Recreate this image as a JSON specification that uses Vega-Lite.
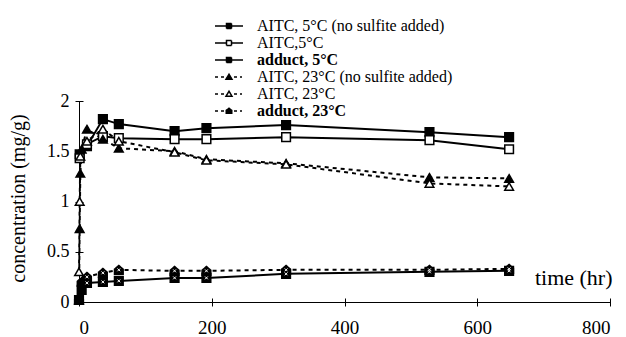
{
  "$schema": "https://vega.github.io/schema/vega-lite/v6.json",
  "autosize": "none",
  "width": 531,
  "height": 201,
  "padding": {"left": 79, "top": 101, "right": 16, "bottom": 35},
  "background": "white",
  "config": {
    "view": {"stroke": null},
    "font": "Liberation Serif",
    "axis": {"grid": false, "domainColor": "black", "tickColor": "black", "labelColor": "black", "titleColor": "black", "labelFont": "Liberation Serif", "titleFont": "Liberation Serif", "titleFontWeight": "normal", "domainWidth": 1, "tickWidth": 1}
  },
  "data": {"values": [
    {"series": "AITC, 5°C (no sulfite added)", "t": 1, "v": 1.47},
    {"series": "AITC, 5°C (no sulfite added)", "t": 12, "v": 1.55},
    {"series": "AITC, 5°C (no sulfite added)", "t": 36, "v": 1.82},
    {"series": "AITC, 5°C (no sulfite added)", "t": 60, "v": 1.77},
    {"series": "AITC, 5°C (no sulfite added)", "t": 144, "v": 1.70},
    {"series": "AITC, 5°C (no sulfite added)", "t": 192, "v": 1.73},
    {"series": "AITC, 5°C (no sulfite added)", "t": 312, "v": 1.76},
    {"series": "AITC, 5°C (no sulfite added)", "t": 528, "v": 1.69},
    {"series": "AITC, 5°C (no sulfite added)", "t": 648, "v": 1.64},
    {"series": "AITC,5°C", "t": 1, "v": 1.43},
    {"series": "AITC,5°C", "t": 12, "v": 1.57},
    {"series": "AITC,5°C", "t": 36, "v": 1.65},
    {"series": "AITC,5°C", "t": 60, "v": 1.63},
    {"series": "AITC,5°C", "t": 144, "v": 1.62},
    {"series": "AITC,5°C", "t": 192, "v": 1.62},
    {"series": "AITC,5°C", "t": 312, "v": 1.64},
    {"series": "AITC,5°C", "t": 528, "v": 1.61},
    {"series": "AITC,5°C", "t": 648, "v": 1.52},
    {"series": "adduct, 5°C", "t": 0, "v": 0.02},
    {"series": "adduct, 5°C", "t": 4, "v": 0.12},
    {"series": "adduct, 5°C", "t": 12, "v": 0.19},
    {"series": "adduct, 5°C", "t": 36, "v": 0.20},
    {"series": "adduct, 5°C", "t": 60, "v": 0.21},
    {"series": "adduct, 5°C", "t": 144, "v": 0.24},
    {"series": "adduct, 5°C", "t": 192, "v": 0.24},
    {"series": "adduct, 5°C", "t": 312, "v": 0.28},
    {"series": "adduct, 5°C", "t": 528, "v": 0.30},
    {"series": "adduct, 5°C", "t": 648, "v": 0.31},
    {"series": "AITC, 23°C (no sulfite added)", "t": 0, "v": 0.02},
    {"series": "AITC, 23°C (no sulfite added)", "t": 1, "v": 0.73},
    {"series": "AITC, 23°C (no sulfite added)", "t": 2, "v": 1.28},
    {"series": "AITC, 23°C (no sulfite added)", "t": 4, "v": 1.52},
    {"series": "AITC, 23°C (no sulfite added)", "t": 12, "v": 1.72},
    {"series": "AITC, 23°C (no sulfite added)", "t": 36, "v": 1.62},
    {"series": "AITC, 23°C (no sulfite added)", "t": 60, "v": 1.53},
    {"series": "AITC, 23°C (no sulfite added)", "t": 144, "v": 1.50},
    {"series": "AITC, 23°C (no sulfite added)", "t": 192, "v": 1.42},
    {"series": "AITC, 23°C (no sulfite added)", "t": 312, "v": 1.38},
    {"series": "AITC, 23°C (no sulfite added)", "t": 528, "v": 1.24},
    {"series": "AITC, 23°C (no sulfite added)", "t": 648, "v": 1.23},
    {"series": "AITC, 23°C", "t": 0, "v": 0.30},
    {"series": "AITC, 23°C", "t": 1, "v": 1.00},
    {"series": "AITC, 23°C", "t": 2, "v": 1.45},
    {"series": "AITC, 23°C", "t": 12, "v": 1.60},
    {"series": "AITC, 23°C", "t": 36, "v": 1.72},
    {"series": "AITC, 23°C", "t": 60, "v": 1.60},
    {"series": "AITC, 23°C", "t": 144, "v": 1.49},
    {"series": "AITC, 23°C", "t": 192, "v": 1.41},
    {"series": "AITC, 23°C", "t": 312, "v": 1.37},
    {"series": "AITC, 23°C", "t": 528, "v": 1.18},
    {"series": "AITC, 23°C", "t": 648, "v": 1.15},
    {"series": "adduct, 23°C", "t": 0, "v": 0.02},
    {"series": "adduct, 23°C", "t": 4, "v": 0.20},
    {"series": "adduct, 23°C", "t": 12, "v": 0.25},
    {"series": "adduct, 23°C", "t": 36, "v": 0.29},
    {"series": "adduct, 23°C", "t": 60, "v": 0.32},
    {"series": "adduct, 23°C", "t": 144, "v": 0.31},
    {"series": "adduct, 23°C", "t": 192, "v": 0.31},
    {"series": "adduct, 23°C", "t": 312, "v": 0.32},
    {"series": "adduct, 23°C", "t": 528, "v": 0.32},
    {"series": "adduct, 23°C", "t": 648, "v": 0.33}
  ]},
  "encoding": {
    "x": {"field": "t", "type": "quantitative",
      "scale": {"domain": [0, 800], "nice": false, "zero": true},
      "axis": {"values": [0, 200, 400, 600, 800], "labelFontSize": 19, "tickSize": 4, "labelPadding": 12,
        "title": "time (hr)", "titleFontSize": 22, "titleAnchor": "end", "titleAlign": "right", "titleX": 533, "titleY": -18, "titleBaseline": "alphabetic",
        "encoding": {"ticks": {"y": {"value": -4}, "y2": {"value": 4}}}}},
    "y": {"field": "v", "type": "quantitative",
      "scale": {"domain": [0, 2], "nice": false},
      "axis": {"values": [0, 0.5, 1, 1.5, 2], "format": "~g", "labelFontSize": 18, "tickSize": 4, "labelPadding": 6,
        "title": "concentration (mg/g)", "titleFontSize": 20, "titleX": -61, "titleY": 97, "titleBaseline": "middle", "titleAngle": -90,
        "encoding": {"ticks": {"x": {"value": -4}, "x2": {"value": 4}}}}}
  },
  "layer": [
    {
      "transform": [{"filter": "indexof(datum.series, '5°C') >= 0"}],
      "mark": {"type": "line", "color": "black", "strokeWidth": 2},
      "encoding": {"detail": {"field": "series"}}
    },
    {
      "transform": [{"filter": "indexof(datum.series, '23°C') >= 0"}],
      "mark": {"type": "line", "color": "black", "strokeWidth": 2, "strokeDash": [4, 4]},
      "encoding": {"detail": {"field": "series"}}
    },
    {
      "mark": {"type": "point", "filled": true, "stroke": "black", "strokeWidth": 1.5, "opacity": 1, "size": 75},
      "encoding": {
        "fill": {"field": "series", "type": "nominal",
          "scale": {"domain": ["adduct, 23°C", "AITC, 23°C", "AITC, 23°C (no sulfite added)", "adduct, 5°C", "AITC,5°C", "AITC, 5°C (no sulfite added)"],
            "range": ["black", "white", "black", "black", "white", "black"]},
          "legend": null},
        "shape": {"field": "series", "type": "nominal",
          "scale": {"domain": ["adduct, 23°C", "AITC, 23°C", "AITC, 23°C (no sulfite added)", "adduct, 5°C", "AITC,5°C", "AITC, 5°C (no sulfite added)"],
            "range": ["M0,-1L1,-0.15V1H-1V-0.15Z", "triangle-up", "triangle-up", "square", "square", "square"]},
          "legend": null},
        "strokeDash": {"field": "series", "type": "nominal",
          "scale": {"domain": ["AITC, 5°C (no sulfite added)", "AITC,5°C", "adduct, 5°C", "AITC, 23°C (no sulfite added)", "AITC, 23°C", "adduct, 23°C"],
            "range": [[1, 0], [1, 0], [1, 0], [1, 0], [1, 0], [1, 0]]},
          "legend": {
            "title": null, "orient": "none", "legendX": 142, "legendY": -83, "padding": 0,
            "symbolSize": 100, "labelOffset": 20, "rowPadding": 1,
            "labelFont": "Liberation Serif", "labelFontSize": 16, "labelColor": "black", "labelLimit": 400,
            "encoding": {
              "symbols": {
                "shape": {"value": {"expr": "['M-2.8,0H2.8M-0.5,-0.5H0.5V0.5H-0.5Z','M-2.8,0H-0.5M0.5,0H2.8M-0.5,-0.5H0.5V0.5H-0.5Z','M-2.8,0H2.8M-0.5,-0.5H0.5V0.5H-0.5Z','M-2.8,0H-2.2M-1.6,0H-1M1,0H1.6M2.2,0H2.6M0,-0.55L0.6,0.45H-0.6Z','M-2.8,0H-2.2M-1.6,0H-1M1,0H1.6M2.2,0H2.6M0,-0.55L0.6,0.45H-0.6Z','M-2.8,0H-2.2M-1.6,0H-1M1,0H1.6M2.2,0H2.6M0,-0.55L0.55,-0.12V0.45H-0.55V-0.12Z'][indexof(['AITC, 5°C (no sulfite added)','AITC,5°C','adduct, 5°C','AITC, 23°C (no sulfite added)','AITC, 23°C','adduct, 23°C'], datum.value)]"}},
                "fill": {"value": {"expr": "(datum.value == 'AITC,5°C' || datum.value == 'AITC, 23°C') ? 'white' : 'black'"}},
                "stroke": {"value": "black"},
                "strokeWidth": {"value": 1.5},
                "opacity": {"value": 1}
              },
              "labels": {
                "fontWeight": {"value": {"expr": "indexof(datum.value, 'adduct') == 0 ? 'bold' : 'normal'"}}
              }
            }
          }}
      }
    },
    {
      "transform": [{"filter": "indexof(datum.series, 'adduct') == 0 && datum.t >= 12"}],
      "mark": {"type": "point", "shape": "M-1,-1L1,1M1,-1L-1,1", "stroke": "white", "strokeWidth": 1, "size": 8, "opacity": 1, "filled": false}
    }
  ]
}
